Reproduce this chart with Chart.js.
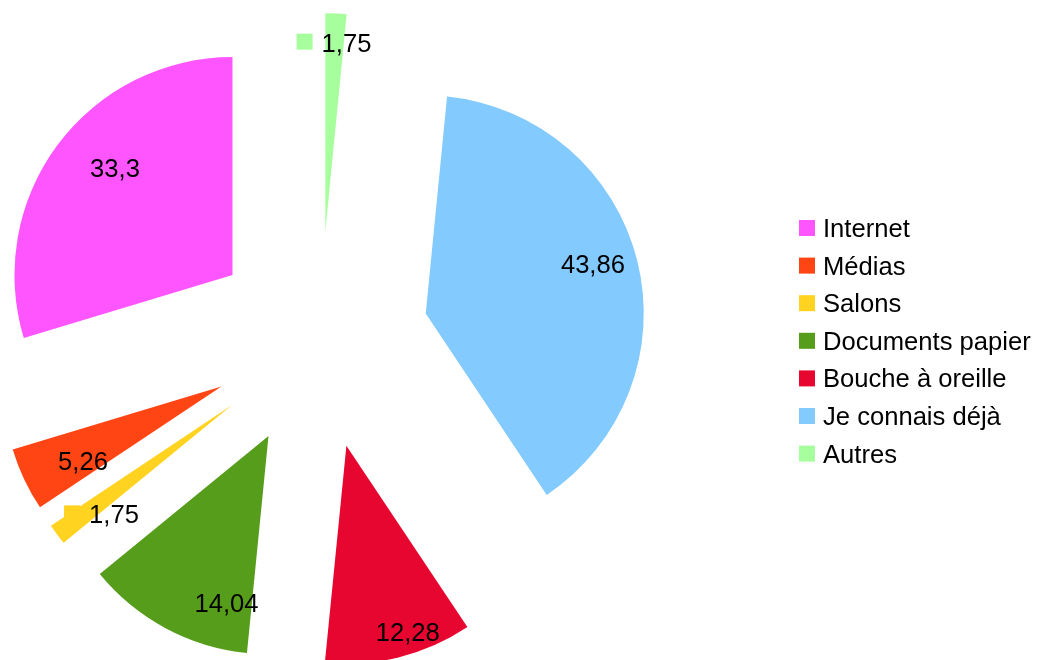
<!DOCTYPE html>
<html>
<head>
    <meta charset="utf-8">
    <title>Comment nous avez-vous connu ?</title>
    <script src="https://cdn.jsdelivr.net/npm/chart.js"></script>
    <style>
        body {
            margin: 0;
            background-color: #fff;
        }

        #cadre {
            width: 1037px;
            height: 660px;
        }
    </style>
</head>
<body>
    <div id="cadre">
        <canvas id="camembert" width="1037" height="660"></canvas>
    </div>

    <script>
        // catégories et valeurs, dans l'ordre de la légende
        var categories = ['Internet', 'Médias', 'Salons', 'Documents papier', 'Bouche à oreille', 'Je connais déjà', 'Autres'];
        var valeurs = [33.3, 5.26, 1.75, 14.04, 12.28, 43.86, 1.75];
        var couleurs = ['#ff55ff', '#ff4513', '#ffd320', '#579d1c', '#e6062f', '#83caff', '#a6ff9c'];

        // placement des étiquettes : fraction du rayon et décalage angulaire (degrés)
        var etiqRayon = [0.73, 0.72, 0.74, 0.79, 0.90, 0.80, 0.87];
        var etiqDecal = [5.8, -2.9, -6.3, -14.1, -4.2, -2.5, 3.6];
        // petites parts : étiquette accompagnée du carré de couleur
        var avecCarre = [false, false, true, false, false, false, true];

        var eclatement = 0.5;   // écartement des parts, en fraction du rayon
        var police = '25.6px "Liberation Sans", Arial, sans-serif';
        var n = categories.length;

        // LibreOffice tourne dans le sens inverse : on inverse l'ordre pour Chart.js
        var labelsGraph = categories.slice().reverse();
        var valeursGraph = valeurs.slice().reverse();
        var couleursGraph = couleurs.slice().reverse();

        function texteValeur(v) {
            return String(v).replace('.', ',');
        }

        // dessine chaque part décalée le long de sa bissectrice
        var partsEclatees = {
            id: 'partsEclatees',
            beforeDatasetDraw: function (chart, args) {
                var ctx = chart.ctx;
                args.meta.data.forEach(function (arc) {
                    var milieu = (arc.startAngle + arc.endAngle) / 2;
                    var d = arc.outerRadius * eclatement;
                    ctx.save();
                    ctx.translate(Math.cos(milieu) * d, Math.sin(milieu) * d);
                    arc.draw(ctx);
                    ctx.restore();
                });
                return false;
            },
            afterDatasetsDraw: function (chart) {
                var ctx = chart.ctx;
                var meta = chart.getDatasetMeta(0);
                ctx.save();
                ctx.font = police;
                ctx.textAlign = 'center';
                ctx.textBaseline = 'middle';
                meta.data.forEach(function (arc, i) {
                    var k = n - 1 - i;
                    var milieu = (arc.startAngle + arc.endAngle) / 2;
                    var R = arc.outerRadius;
                    var sx = arc.x + Math.cos(milieu) * R * eclatement;
                    var sy = arc.y + Math.sin(milieu) * R * eclatement;
                    var a = milieu + etiqDecal[k] * Math.PI / 180;
                    var tx = sx + Math.cos(a) * R * etiqRayon[k];
                    var ty = sy + Math.sin(a) * R * etiqRayon[k];
                    var txt = texteValeur(valeurs[k]);
                    if (avecCarre[k]) {
                        var w = ctx.measureText(txt).width;
                        ctx.fillStyle = couleurs[k];
                        ctx.fillRect(tx - w / 2 - 9 - 16, ty - 9, 16, 16);
                    }
                    ctx.fillStyle = '#000';
                    ctx.fillText(txt, tx, ty + 2);
                });
                ctx.restore();
            },
            afterDraw: function (chart) {
                // légende à droite
                var ctx = chart.ctx;
                ctx.save();
                ctx.font = police;
                ctx.textAlign = 'left';
                ctx.textBaseline = 'middle';
                categories.forEach(function (nom, k) {
                    var y = 228 + k * 37.6;
                    ctx.fillStyle = couleurs[k];
                    ctx.fillRect(799, y - 8, 16, 16);
                    ctx.fillStyle = '#000';
                    ctx.fillText(nom, 823, y + 2);
                });
                ctx.restore();
            }
        };

        var ctx = document.getElementById('camembert').getContext('2d');
        var camembert = new Chart(ctx, {
            type: 'pie',
            data: {
                labels: labelsGraph,
                datasets: [{
                    data: valeursGraph,
                    backgroundColor: couleursGraph,
                    borderWidth: 0
                }]
            },
            options: {
                responsive: false,
                animation: false,
                radius: 218,
                rotation: 0,
                layout: {
                    padding: { left: 0, top: 20, right: 397, bottom: 0 }
                },
                plugins: {
                    legend: { display: false },
                    tooltip: { enabled: false }
                },
                events: []
            },
            plugins: [partsEclatees]
        });
    </script>
</body>
</html>
